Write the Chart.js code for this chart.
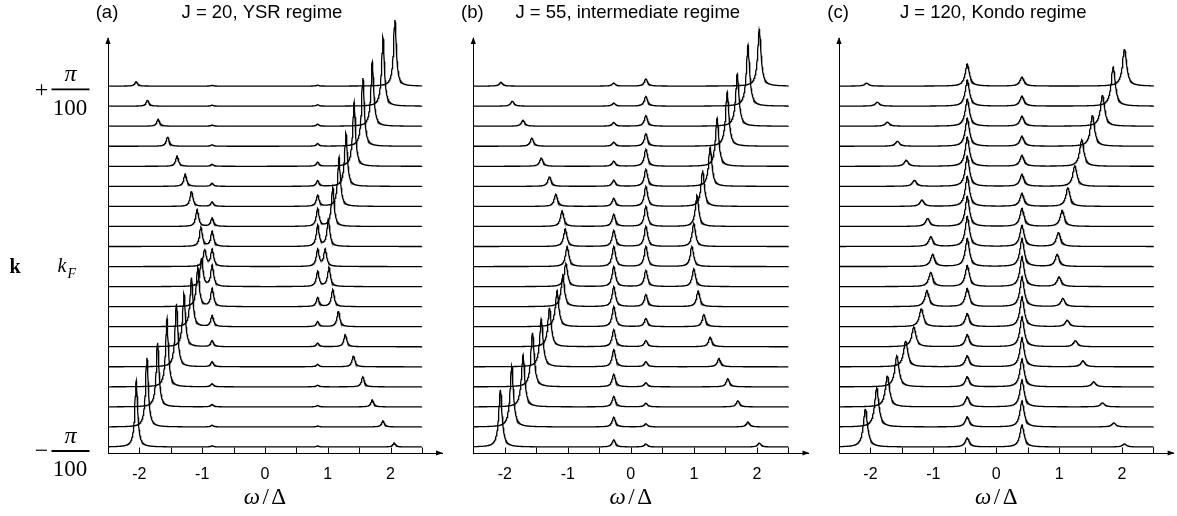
<!DOCTYPE html>
<html><head><meta charset="utf-8">
<script src="https://cdn.jsdelivr.net/npm/chart.js@4.4.1/dist/chart.umd.min.js"></script>
<style>
html,body{margin:0;padding:0;background:#fff;}
#wrap{position:relative;width:1177px;height:516px;overflow:hidden;background:#fff;}
canvas{position:absolute;top:0;}
</style></head><body>
<div id="wrap">
<canvas id="ca" width="460" height="516" style="left:0px"></canvas>
<canvas id="cb" width="370" height="516" style="left:450px"></canvas>
<canvas id="cc" width="362" height="516" style="left:815px"></canvas>
</div>
<script>
// ---- data ----
const omegaTicks = [-2, -1, 0, 1, 2];           // labelled x ticks
const omegaMinorTicks = [-2.5, -2, -1.5, -1, -0.5, 0, 0.5, 1, 1.5, 2, 2.5];
const panelTags = ['(a)', '(b)', '(c)'];
const panelTitles = ['J = 20, YSR regime', 'J = 55, intermediate regime', 'J = 120, Kondo regime'];
const xAxisLabel = ['ω', '/', 'Δ'];
const kLabelTop = ['+', 'π', '100'];
const kLabelBottom = ['−', 'π', '100'];
const kLabelMid = ['k', 'k', 'F'];
const peakWidths = [0.027, 0.032, 0.04];      // half widths of the peaks (ω/Δ units)

// each row: k from -π/100 (row 0, bottom) to +π/100 (row 18, top); peaks [ω/Δ, height in row spacings]
const peaksA = [
  [[-2.05,3.30],[-0.84,0.06],[0.84,0.05],[2.06,0.20]],
  [[-1.88,3.45],[-0.84,0.08],[0.84,0.05],[1.88,0.30]],
  [[-1.71,3.20],[-0.84,0.12],[0.84,0.07],[1.71,0.35]],
  [[-1.56,3.40],[-0.84,0.15],[0.84,0.08],[1.56,0.50]],
  [[-1.41,3.15],[-0.84,0.25],[0.84,0.12],[1.41,0.55]],
  [[-1.29,2.65],[-0.84,0.30],[0.84,0.18],[1.28,0.62]],
  [[-1.17,2.45],[-0.84,0.55],[0.84,0.25],[1.17,0.78]],
  [[-1.07,1.95],[-0.84,0.90],[0.84,0.45],[1.08,0.85]],
  [[-1.01,1.40],[-0.84,1.05],[0.84,0.75],[1.02,0.95]],
  [[-0.96,0.85],[-0.84,0.85],[0.84,0.85],[0.96,0.85]],
  [[-1.02,0.95],[-0.84,0.75],[0.84,1.05],[1.01,1.35]],
  [[-1.08,0.85],[-0.84,0.42],[0.84,0.88],[1.08,1.95]],
  [[-1.17,0.76],[-0.84,0.22],[0.84,0.55],[1.18,2.45]],
  [[-1.27,0.62],[-0.84,0.15],[0.84,0.28],[1.29,2.65]],
  [[-1.40,0.52],[-0.84,0.10],[0.84,0.20],[1.42,3.20]],
  [[-1.55,0.48],[-0.84,0.07],[0.84,0.13],[1.56,3.40]],
  [[-1.70,0.35],[-0.84,0.06],[0.84,0.10],[1.71,3.20]],
  [[-1.87,0.30],[-0.84,0.05],[0.84,0.07],[1.88,3.45]],
  [[-2.05,0.22],[-0.84,0.04],[0.84,0.05],[2.07,3.30]]
];
const peaksB = [
  [[-2.07,2.85],[-0.27,0.35],[0.24,0.15],[2.04,0.20]],
  [[-1.89,3.05],[-0.27,0.48],[0.24,0.15],[1.86,0.25]],
  [[-1.71,2.60],[-0.27,0.52],[0.24,0.18],[1.70,0.30]],
  [[-1.56,2.70],[-0.27,0.62],[0.24,0.20],[1.54,0.40]],
  [[-1.42,2.40],[-0.27,0.85],[0.24,0.25],[1.40,0.42]],
  [[-1.29,1.95],[-0.27,0.85],[0.24,0.30],[1.26,0.48]],
  [[-1.17,1.80],[-0.27,1.00],[0.24,0.40],[1.16,0.60]],
  [[-1.08,1.55],[-0.27,1.00],[0.24,0.60],[1.07,0.78]],
  [[-1.03,1.15],[-0.27,1.00],[0.24,0.80],[1.00,0.88]],
  [[-1.01,1.00],[-0.27,1.00],[0.24,1.00],[0.97,1.00]],
  [[-1.04,0.88],[-0.27,0.80],[0.24,1.00],[1.00,1.15]],
  [[-1.09,0.78],[-0.27,0.60],[0.24,1.00],[1.05,1.55]],
  [[-1.19,0.60],[-0.27,0.40],[0.24,1.00],[1.14,1.80]],
  [[-1.29,0.48],[-0.27,0.30],[0.24,0.85],[1.26,1.95]],
  [[-1.42,0.42],[-0.27,0.25],[0.24,0.85],[1.37,2.40]],
  [[-1.57,0.40],[-0.27,0.20],[0.24,0.62],[1.53,2.70]],
  [[-1.71,0.30],[-0.27,0.18],[0.24,0.52],[1.69,2.60]],
  [[-1.88,0.25],[-0.27,0.15],[0.24,0.48],[1.86,3.05]],
  [[-2.06,0.20],[-0.27,0.15],[0.24,0.35],[2.04,2.85]]
];
const peaksC = [
  [[-2.08,1.90],[-0.46,0.45],[0.41,1.10],[2.04,0.15]],
  [[-1.90,1.95],[-0.46,0.50],[0.41,1.30],[1.87,0.20]],
  [[-1.73,1.55],[-0.46,0.50],[0.41,1.35],[1.69,0.20]],
  [[-1.58,1.55],[-0.46,0.50],[0.41,1.40],[1.55,0.25]],
  [[-1.44,1.30],[-0.46,0.55],[0.41,1.45],[1.38,0.30]],
  [[-1.31,0.98],[-0.46,0.60],[0.41,1.50],[1.26,0.30]],
  [[-1.19,0.90],[-0.46,0.65],[0.41,1.50],[1.13,0.32]],
  [[-1.10,0.80],[-0.46,0.90],[0.41,1.50],[1.06,0.40]],
  [[-1.04,0.70],[-0.46,1.05],[0.41,1.50],[1.00,0.48]],
  [[-1.01,0.60],[-0.46,1.40],[0.41,1.40],[0.97,0.60]],
  [[-1.04,0.48],[-0.46,1.50],[0.41,1.05],[0.99,0.70]],
  [[-1.09,0.40],[-0.46,1.50],[0.41,0.90],[1.05,0.80]],
  [[-1.18,0.32],[-0.46,1.50],[0.41,0.65],[1.14,0.92]],
  [[-1.30,0.30],[-0.46,1.50],[0.41,0.60],[1.25,1.02]],
  [[-1.43,0.30],[-0.46,1.45],[0.41,0.55],[1.36,1.32]],
  [[-1.57,0.25],[-0.46,1.40],[0.41,0.50],[1.53,1.55]],
  [[-1.73,0.20],[-0.46,1.35],[0.41,0.50],[1.69,1.55]],
  [[-1.89,0.20],[-0.46,1.30],[0.41,0.50],[1.86,1.95]],
  [[-2.06,0.15],[-0.46,1.10],[0.41,0.45],[2.04,1.85]]
];
const allPeaks = [peaksA, peaksB, peaksC];

// ---- rendering ----
const OMEGA_MIN = -2.5, OMEGA_END = 2.5, X_MAX = 2.82, Y_MIN = -0.3, Y_MAX = 20.4;
const layouts = [
  {id:'ca', left:108, right:18},
  {id:'cb', left:23.3, right:11.5},
  {id:'cc', left:24, right:3.4}
];

function rowPoints(row, r, g) {
  const xs = [];
  for (let i = 0; i <= 1000; i++) xs.push(OMEGA_MIN + i * (OMEGA_END - OMEGA_MIN) / 1000);
  row.forEach(p => xs.push(p[0]));
  xs.sort((a, b) => a - b);
  return xs.map(x => ({x: x, y: r + row.reduce((s, p) => s + p[1] * g * g / ((x - p[0]) * (x - p[0]) + g * g), 0)}));
}

const serif = '"Liberation Serif", "Times New Roman", serif';
const sans = '"Liberation Sans", Arial, Helvetica, sans-serif';

function decor(idx) {
  return {
    id: 'decor' + idx,
    afterDraw(chart) {
      const ctx = chart.ctx;
      const {left, right, top, bottom} = chart.chartArea;
      const x = chart.scales.x, y = chart.scales.y;
      ctx.save();
      ctx.fillStyle = '#000'; ctx.strokeStyle = '#000'; ctx.lineWidth = 1;
      // inward tick marks
      ctx.beginPath();
      omegaMinorTicks.forEach(v => {
        const px = Math.round(x.getPixelForValue(v)) + 0.5;
        ctx.moveTo(px, bottom); ctx.lineTo(px, bottom - 5.5);
      });
      ctx.stroke();
      // arrow heads
      ctx.beginPath(); ctx.moveTo(right + 1, bottom); ctx.lineTo(right - 6, bottom - 2.6); ctx.lineTo(right - 6, bottom + 2.6); ctx.closePath(); ctx.fill();
      ctx.beginPath(); ctx.moveTo(left, top - 1); ctx.lineTo(left - 2.6, top + 6); ctx.lineTo(left + 2.6, top + 6); ctx.closePath(); ctx.fill();
      // panel titles
      ctx.font = '18.5px ' + sans; ctx.textAlign = 'center'; ctx.textBaseline = 'alphabetic';
      ctx.fillText(panelTags[idx], left - 1, 17.5);
      ctx.fillText(panelTitles[idx], x.getPixelForValue(0) - 3, 17.5);
      // x axis title  ω/Δ
      const fI = 'italic 23px ' + serif, fN = '23px ' + serif;
      ctx.textAlign = 'left';
      ctx.font = fI; const w1 = ctx.measureText(xAxisLabel[0]).width;
      ctx.font = fN; const w2 = ctx.measureText(xAxisLabel[1]).width, w3 = ctx.measureText(xAxisLabel[2]).width;
      const gap = 2.5, tot = w1 + w2 + w3 + 2 * gap;
      let sx = x.getPixelForValue(0) - tot / 2;
      ctx.font = fI; ctx.fillText(xAxisLabel[0], sx, 504); sx += w1 + gap;
      ctx.font = fN; ctx.fillText(xAxisLabel[1], sx, 504); sx += w2 + gap;
      ctx.fillText(xAxisLabel[2], sx, 504);
      // k-axis labels (first panel)
      if (idx === 0) {
        const topBar = y.getPixelForValue(18) + 3.3;
        const botBar = y.getPixelForValue(0) + 4;
        const mid = y.getPixelForValue(9);
        [[kLabelTop, topBar], [kLabelBottom, botBar]].forEach(([lab, yb]) => {
          ctx.lineWidth = 1.8;
          ctx.beginPath(); ctx.moveTo(51.5, yb); ctx.lineTo(89.5, yb); ctx.stroke();
          ctx.textAlign = 'center';
          ctx.font = '24px ' + serif; ctx.textBaseline = 'middle';
          ctx.fillText(lab[0], 41.5, yb + 1);
          ctx.textBaseline = 'alphabetic';
          ctx.font = 'italic 24px ' + serif; ctx.fillText(lab[1], 70.5, yb - 8);
          ctx.font = '23px ' + serif; ctx.fillText(lab[2], 70, yb + 25.5);
        });
        ctx.textAlign = 'left'; ctx.textBaseline = 'alphabetic';
        ctx.font = 'bold 20px ' + serif; ctx.fillText(kLabelMid[0], 9.5, mid + 6.5);
        ctx.font = 'italic 20px ' + serif; ctx.fillText(kLabelMid[1], 57.5, mid + 5);
        ctx.font = 'italic 14px ' + serif; ctx.fillText(kLabelMid[2], 67.5, mid + 11);
      }
      ctx.restore();
    }
  };
}

layouts.forEach((L, idx) => {
  const datasets = allPeaks[idx].map((row, r) => ({
    data: rowPoints(row, r, peakWidths[idx]),
    showLine: true, pointRadius: 0, borderColor: '#000', borderWidth: 1.3,
    tension: 0, clip: false, fill: false
  }));
  new Chart(document.getElementById(L.id), {
    type: 'scatter',
    data: {datasets},
    options: {
      responsive: false, animation: false, devicePixelRatio: 1, events: [],
      layout: {padding: {left: 0, right: L.right, top: 38, bottom: 0}},
      plugins: {legend: {display: false}, tooltip: {enabled: false}, title: {display: false}},
      scales: {
        x: {
          type: 'linear', min: OMEGA_MIN, max: X_MAX,
          grid: {display: false, drawTicks: false},
          border: {display: true, color: '#000', width: 1},
          afterBuildTicks: s => { s.ticks = omegaTicks.map(v => ({value: v})); },
          afterFit: s => { s.height = 63; },
          ticks: {color: '#000', padding: 12, maxRotation: 0, autoSkip: false,
                  font: {family: sans, size: 16}, callback: v => String(v)}
        },
        y: {
          type: 'linear', min: Y_MIN, max: Y_MAX,
          grid: {display: false, drawTicks: false},
          border: {display: true, color: '#000', width: 1},
          ticks: {display: false},
          afterFit: s => { s.width = L.left; }
        }
      }
    },
    plugins: [decor(idx)]
  });
});
</script>
</body></html>
